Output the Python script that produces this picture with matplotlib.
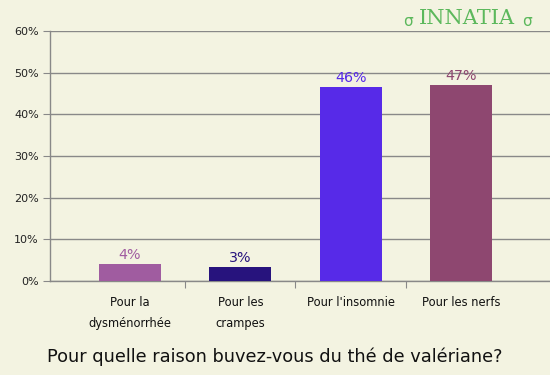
import matplotlib
matplotlib.use("Agg")
import matplotlib.pyplot as plt

categories = ["Pour la\ndysménorrhée", "Pour les\ncrampes", "Pour l'insomnie", "Pour les nerfs"]
values = [4.1, 3.4, 46.6, 47.0]
value_labels = ["4%", "3%", "46%", "47%"]
colors = ["#a05ca0", "#27137d", "#572ae8", "#8e4770"]
yticks = [0, 10, 20, 30, 40, 50, 60]
ytick_labels = ["0%", "10%", "20%", "30%", "40%", "50%", "60%"]
title = "Pour quelle raison buvez-vous du thé de valériane?"

bg = "#f3f3e1"
fig = plt.figure(figsize=(5.5, 3.75), dpi=100, facecolor=bg)
ax = fig.add_axes([50/550, 94/375, 500/550, 250/375], facecolor=bg)

x = list(range(len(categories)))
ax.bar(x, values, width=0.56, color=colors, zorder=3)
for xi, v, lab, c in zip(x, values, value_labels, colors):
    ax.text(xi, v + 0.5, lab, ha="center", va="bottom", color=c, fontsize=10.3)

ax.set_xlim(-0.725, 3.807)
ax.set_ylim(0, 60)
ax.set_yticks(yticks)
ax.set_yticklabels(ytick_labels, fontsize=8, color="#222222")
ax.yaxis.grid(True, color="#888888", linewidth=1, zorder=0)
ax.set_axisbelow(True)
ax.tick_params(axis="y", length=5, color="#888888", pad=3)

ax.set_xticks([0.5, 1.5, 2.5])
ax.set_xticklabels([])
ax.tick_params(axis="x", length=5, color="#888888", direction="out")
for xi, cat in zip(x, categories):
    ax.text(xi, -3.5, cat, ha="center", va="top", fontsize=8.3, color="#111111",
            linespacing=1.85, transform=ax.transData, clip_on=False)

for s in ["top", "right"]:
    ax.spines[s].set_visible(False)
for s in ["left", "bottom"]:
    ax.spines[s].set_color("#888888")
    ax.spines[s].set_linewidth(1)

fig.text(0.5, 1 - 357/375, title, ha="center", va="center", fontsize=12.8, color="#111111")

# logo
fig.text(467/550, 1 - 19/375, "INNATIA", ha="center", va="center", fontsize=15,
         color="#5cb85c", family="DejaVu Serif")
fig.text(408/550, 1 - 22/375, "\u03c3", ha="center", va="center", fontsize=11, color="#5cb85c")
fig.text(527/550, 1 - 22/375, "\u03c3", ha="center", va="center", fontsize=11, color="#5cb85c")

fig.savefig("out.png", dpi=100, facecolor=bg)
